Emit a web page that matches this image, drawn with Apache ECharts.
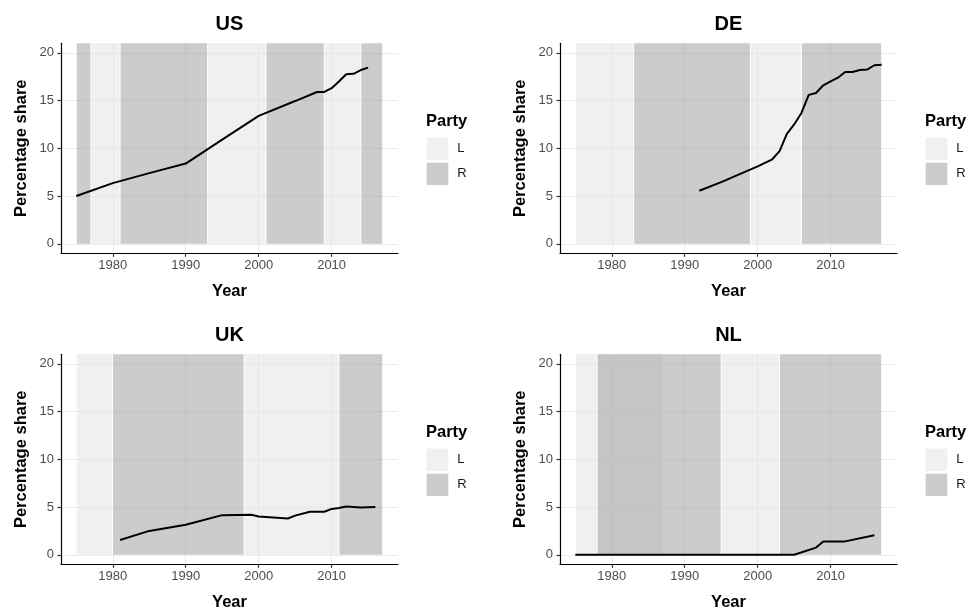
<!DOCTYPE html>
<html><head><meta charset="utf-8">
<script src="https://cdn.jsdelivr.net/npm/echarts@6/dist/echarts.min.js"></script>
<style>html,body{margin:0;padding:0;background:#fff}#c{width:969px;height:608px}</style>
</head><body><div id="c"></div>
<script>
// ---- data ----
const countries = ['US', 'DE', 'UK', 'NL'];
const partyNames = ['L', 'R'];
const xTicks = [1980, 1990, 2000, 2010];
const yTicks = [0, 5, 10, 15, 20];

const usYear  = [1975, 1980, 1985, 1990, 1995, 2000, 2005, 2008, 2009, 2010, 2011, 2012, 2013, 2014, 2015];
const usShare = [5.0, 6.35, 7.4, 8.4, 10.9, 13.4, 14.95, 15.9, 15.9, 16.3, 17.0, 17.75, 17.8, 18.2, 18.45];
const usStart = [1975, 1977, 1981, 1993, 2001, 2009, 2014];
const usEnd   = [1977, 1981, 1993, 2001, 2009, 2014, 2017];
const usParty = ['R', 'L', 'R', 'L', 'R', 'L', 'R'];

const deYear  = [1992, 1995, 2000, 2002, 2003, 2004, 2005, 2006, 2007, 2008, 2009, 2010, 2011, 2012, 2013, 2014, 2015, 2016, 2017];
const deShare = [5.55, 6.45, 8.1, 8.85, 9.7, 11.5, 12.5, 13.7, 15.6, 15.8, 16.6, 17.0, 17.4, 18.0, 18.0, 18.2, 18.25, 18.7, 18.75];
const deStart = [1975, 1983, 1999, 2006];
const deEnd   = [1983, 1999, 2006, 2017];
const deParty = ['L', 'R', 'L', 'R'];

const ukYear  = [1981, 1985, 1990, 1995, 1999, 2000, 2002, 2004, 2005, 2007, 2009, 2010, 2011, 2012, 2014, 2016];
const ukShare = [1.55, 2.5, 3.15, 4.15, 4.2, 4.0, 3.9, 3.8, 4.1, 4.5, 4.5, 4.8, 4.9, 5.05, 4.95, 5.0];
const ukStart = [1975, 1980, 1998, 2011];
const ukEnd   = [1980, 1998, 2011, 2017];
const ukParty = ['L', 'R', 'L', 'R'];

const nlYear  = [1975, 2005, 2008, 2009, 2012, 2016];
const nlShare = [0, 0, 0.75, 1.4, 1.4, 2.05];
const nlStart = [1975, 1978, 1978, 1995, 2003];
const nlEnd   = [1978, 1987, 1995, 2003, 2017];
const nlParty = ['L', 'L', 'R', 'L', 'R'];

// ---- layout / style ----
const FONT = '"Liberation Sans", Arial, Helvetica, sans-serif';
const partyColor = { L: 'rgba(225,225,225,0.5)', R: 'rgba(153,153,153,0.5)' };
const PW = 337, PH = 210;
const SEAM = 0.5;
const panels = [
  { name: countries[0], year: usYear, share: usShare, start: usStart, end: usEnd, party: usParty, left: 61,  top: 43.3 },
  { name: countries[1], year: deYear, share: deShare, start: deStart, end: deEnd, party: deParty, left: 560, top: 43.3 },
  { name: countries[2], year: ukYear, share: ukShare, start: ukStart, end: ukEnd, party: ukParty, left: 61,  top: 354.3 },
  { name: countries[3], year: nlYear, share: nlShare, start: nlStart, end: nlEnd, party: nlParty, left: 560, top: 354.3 }
];

function renderRect(params, api) {
  const a = api.coord([api.value(0), 0]);
  const b = api.coord([api.value(1), 0]);
  const cs = params.coordSys;
  return {
    type: 'rect',
    shape: { x: a[0] + SEAM, y: cs.y, width: b[0] - a[0] - 2 * SEAM, height: a[1] - cs.y },
    style: { fill: api.visual('color') }
  };
}

const grid = [], xAxis = [], yAxis = [], series = [], legend = [], graphic = [];
panels.forEach((p, i) => {
  grid.push({ left: p.left, top: p.top, width: PW, height: PH, containLabel: false, outerBoundsMode: 'none' });
  xAxis.push({
    type: 'value', gridIndex: i, min: 1972.9, max: 2019.1,
    name: 'Year', nameLocation: 'middle', nameGap: 30,
    nameTextStyle: { fontFamily: FONT, fontWeight: 'bold', fontSize: 16.5, color: '#000' },
    axisLine: { show: true, onZero: false, lineStyle: { color: '#000', width: 1.2 } },
    axisTick: { show: true, customValues: xTicks, length: 3.5, lineStyle: { color: '#333', width: 1.2 } },
    axisLabel: { customValues: xTicks, formatter: v => String(v), color: '#4d4d4d', fontSize: 13, margin: 6, fontFamily: FONT },
    splitLine: { show: true, lineStyle: { color: '#ebebeb', width: 1 } }
  });
  yAxis.push({
    type: 'value', gridIndex: i, min: -1, max: 21,
    name: 'Percentage share', nameLocation: 'middle', nameGap: 31,
    nameTextStyle: { fontFamily: FONT, fontWeight: 'bold', fontSize: 16.5, color: '#000' },
    axisLine: { show: true, onZero: false, lineStyle: { color: '#000', width: 1.2 } },
    axisTick: { show: true, customValues: yTicks, length: 3.5, lineStyle: { color: '#333', width: 1.2 } },
    axisLabel: { customValues: yTicks, formatter: v => String(v), color: '#4d4d4d', fontSize: 13, margin: 7, fontFamily: FONT },
    splitLine: { show: true, lineStyle: { color: '#ebebeb', width: 1 } }
  });
  partyNames.forEach(pn => {
    const d = [];
    p.start.forEach((s, k) => { if (p.party[k] === pn) d.push([s, p.end[k], 0]); });
    series.push({
      type: 'custom', name: pn, xAxisIndex: i, yAxisIndex: i,
      renderItem: renderRect, encode: { x: [0, 1], y: 2 },
      itemStyle: { color: partyColor[pn] }, data: d, z: 2, silent: true
    });
  });
  series.push({
    type: 'line', name: p.name + ' share', xAxisIndex: i, yAxisIndex: i,
    data: p.year.map((y, k) => [y, p.share[k]]),
    showSymbol: false, lineStyle: { color: '#000', width: 2 }, itemStyle: { color: '#000' },
    z: 5, silent: true
  });
  legend.push({
    data: partyNames, orient: 'vertical', left: p.left + 365.7, top: p.top + 94.4, padding: 0,
    itemWidth: 21.6, itemHeight: 22.3, itemGap: 2.7, icon: 'rect', selectedMode: false,
    textStyle: { fontFamily: FONT, fontSize: 13, color: '#1a1a1a', padding: [0, 0, 0, 4] }
  });
  graphic.push({
    type: 'text', x: p.left + PW / 2, y: p.top - 19,
    style: { text: p.name, align: 'center', verticalAlign: 'middle', fontFamily: FONT, fontWeight: 'bold', fontSize: 20, fill: '#000' }
  });
  graphic.push({
    type: 'text', x: p.left + 365, y: p.top + 78,
    style: { text: 'Party', align: 'left', verticalAlign: 'middle', fontFamily: FONT, fontWeight: 'bold', fontSize: 16.5, fill: '#000' }
  });
});

const chart = echarts.init(document.getElementById('c'), null, { renderer: 'canvas' });
chart.setOption({
  animation: false,
  backgroundColor: '#fff',
  textStyle: { fontFamily: FONT },
  grid, xAxis, yAxis, series, legend, graphic
});
</script></body></html>
